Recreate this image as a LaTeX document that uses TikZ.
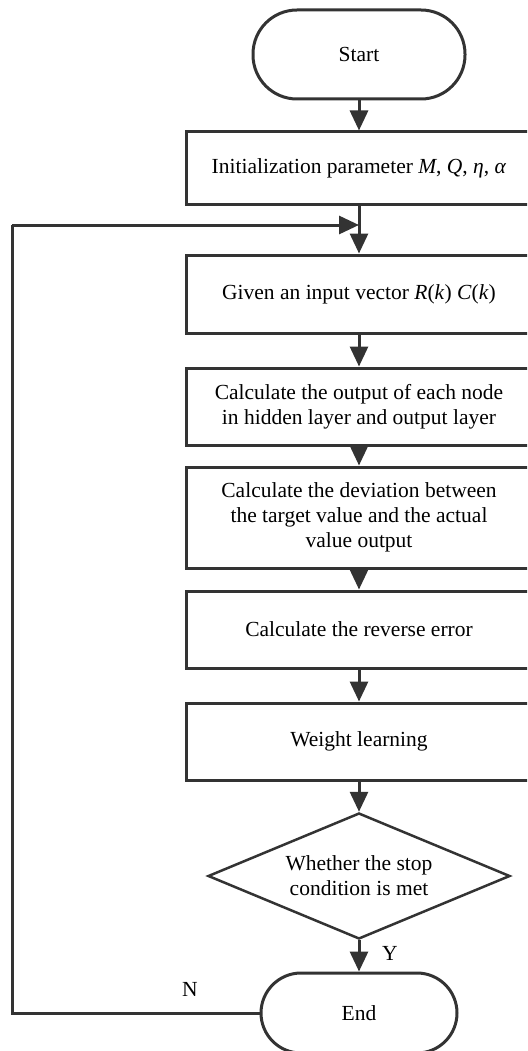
\documentclass[tikz,border=0pt]{standalone}
\usepackage{fontspec}
\setmainfont{Liberation Serif}
\usetikzlibrary{arrows.meta,shapes.geometric}
\definecolor{ink}{HTML}{333333}
\begin{document}
\begin{tikzpicture}[x=1pt,y=1pt,
  every node/.style={font=\fontsize{21.5}{25}\selectfont, text=black},
  box/.style={draw=ink, line width=3pt, minimum width=346pt, inner sep=0pt, align=center},
  term/.style={draw=ink, line width=3pt, inner sep=0pt, align=center},
  decision/.style={draw=ink, line width=2.5pt, diamond, aspect=2.4, minimum width=302pt,
                   minimum height=126pt, inner sep=0pt, align=center},
  arr/.style={draw=ink, line width=3pt, -{Triangle[length=20pt,width=18pt]}},
  link/.style={draw=ink, line width=3pt}
]
\clip (0,0) rectangle (527,-1051);

% process steps
\node[term, minimum width=212pt, minimum height=89pt, rounded corners=44pt] (start) at (359,-54.5) {Start};
\node[box, minimum height=72pt] (init) at (359,-168) {Initialization parameter \textit{M}, \textit{Q}, \textit{η}, \textit{α}};
\node[box, minimum height=78pt] (given) at (359,-294) {Given an input vector \textit{R}(\textit{k}) \textit{C}(\textit{k})};
\node[box, minimum height=77pt] (output) at (359,-406.5) {Calculate the output of each node\\in hidden layer and output layer};
\node[box, minimum height=101pt] (dev) at (359,-517.5) {Calculate the deviation between\\the target value and the actual\\value output};
\node[box, minimum height=77pt] (rev) at (359,-629.5) {Calculate the reverse error};
\node[box, minimum height=77pt] (weight) at (359,-741.5) {Weight learning};
\node[decision] (dec) at (359,-876) {Whether the stop\\condition is met};
\node[term, minimum width=196pt, minimum height=80pt, rounded corners=40pt] (stop) at (359,-1013) {End};

% loop-back points
\coordinate (join) at (359,-225);
\coordinate (lx) at (12,-225);

% main flow
\draw[arr] (start) -- (init);
\draw[arr] (init) -- (given);
\draw[arr] (given) -- (output);
\draw[arr] (output) -- (dev);
\draw[arr] (dev) -- (rev);
\draw[arr] (rev) -- (weight);
\draw[arr] (weight) -- (dec);
\draw[arr] (dec) -- (stop);

% return path
\draw[link, line join=miter] (stop.west) -| (lx);
\draw[arr] (lx) -- (join);

% branch labels
\node (ylab) at (390,-953) {Y};
\node (nlab) at (190,-989) {N};
\end{tikzpicture}
\end{document}
